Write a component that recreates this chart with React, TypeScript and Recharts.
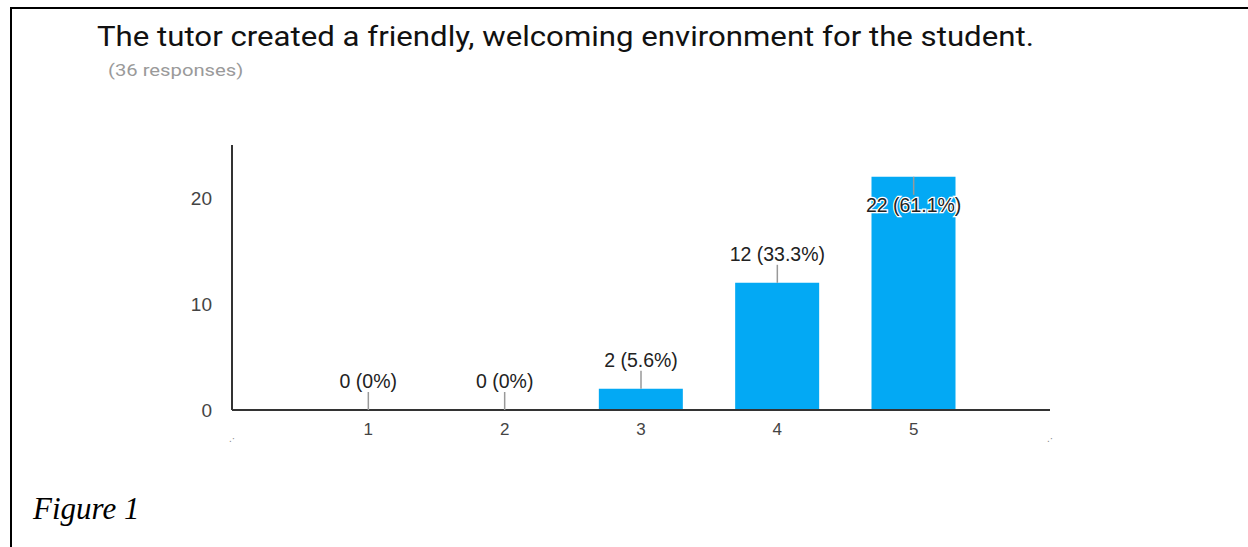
import React from 'react';
import { ComposedChart, Bar, Line, XAxis, YAxis } from 'recharts';

const ratings = [1, 2, 3, 4, 5];
const counts = [0, 0, 2, 12, 22];
const percents = ['0%', '0%', '5.6%', '33.3%', '61.1%'];
const yTicks = [0, 10, 20];
const xTicks = [0, 1, 2, 3, 4, 5, 6];

const data = ratings.map((r, i) => ({ rating: r, count: counts[i] }));

const W = 1248;
const H = 547;

const XTick = (props: any) => {
    const { x, y, payload } = props;
    const v = payload.value;
    if (v === 0 || v === 6) {
        return (
            <text x={x} y={y + 24} textAnchor="middle" fontSize={10} fill="#888" fontFamily="Liberation Sans, Arial">.·</text>
        );
    }
    return (
        <text x={x} y={y + 17} textAnchor="middle" fontSize={17} fill="#444" fontFamily="Liberation Sans, Arial">
            {v}
        </text>
    );
};

// leader line + "n (p%)" text, drawn at the top of each bar
const BarLabel = (props: any) => {
    const { x, y, value } = props;
    if (x == null || y == null) return null;
    const idx = counts.indexOf(value);
    const text = `${value} (${percents[idx]})`;
    const inside = value > 15;
    const ly = inside ? y + 18 : y - 18;
    const ty = inside ? y + 35 : y - 22;
    return (
        <g>
            <line x1={x} y1={y} x2={x} y2={ly} stroke="#999" strokeWidth={1.5} />
            <text
                x={x}
                y={ty}
                textAnchor="middle"
                fontSize={19.5}
                fill="#222"
                fontFamily="Liberation Sans, Arial"
                stroke={inside ? '#fff' : 'none'}
                strokeWidth={inside ? 2.5 : 0}
                paintOrder="stroke"
            >
                {text}
            </text>
        </g>
    );
};

export default function App() {
    return (
        <div style={{ position: 'absolute', left: 0, top: 0, width: W, height: H, background: '#fff', overflow: 'hidden' }}>
            <div style={{ position: 'absolute', left: 10, top: 7, right: 0, bottom: 0, borderTop: '2px solid #000', borderLeft: '2px solid #000' }} />
            <div style={{ position: 'absolute', left: 97, top: 21, fontFamily: 'Roboto', fontSize: 27, color: '#111', whiteSpace: 'nowrap', transform: 'scaleX(1.155)', transformOrigin: 'left top' }}>
                The tutor created a friendly, welcoming environment for the student.
            </div>
            <div style={{ position: 'absolute', left: 108, top: 60, fontFamily: 'Roboto', fontSize: 17, color: '#9a9a9a', whiteSpace: 'nowrap', transform: 'scaleX(1.19)', transformOrigin: 'left top' }}>
                (36 responses)
            </div>
            <div style={{ position: 'absolute', left: 33, top: 491, fontFamily: 'Liberation Serif', fontStyle: 'italic', fontSize: 31, color: '#000', whiteSpace: 'nowrap' }}>
                Figure 1
            </div>
            <div style={{ position: 'absolute', left: 0, top: 0 }}>
                <ComposedChart
                    width={W}
                    height={H}
                    data={data}
                    margin={{ left: 192, top: 145, right: 198, bottom: 97 }}
                >
                    <XAxis
                        dataKey="rating"
                        type="number"
                        domain={[0, 6]}
                        ticks={xTicks}
                        height={40}
                        axisLine={{ stroke: '#333', strokeWidth: 2 }}
                        tickLine={false}
                        tick={<XTick />}
                        interval={0}
                    />
                    <YAxis
                        domain={[0, 25]}
                        ticks={yTicks}
                        width={40}
                        axisLine={{ stroke: '#333', strokeWidth: 2 }}
                        tickLine={false}
                        tickSize={0}
                        tickMargin={20}
                        tick={{ fill: '#444', fontSize: 19, fontFamily: 'Liberation Sans, Arial' }}
                    />
                    <Bar dataKey="count" fill="#03a9f4" barSize={84} isAnimationActive={false} />
                    <Line
                        dataKey="count"
                        stroke="none"
                        dot={false}
                        activeDot={false}
                        isAnimationActive={false}
                        label={(p: any) => <BarLabel key={p.index} {...p} />}
                    />
                </ComposedChart>
            </div>
        </div>
    );
}
